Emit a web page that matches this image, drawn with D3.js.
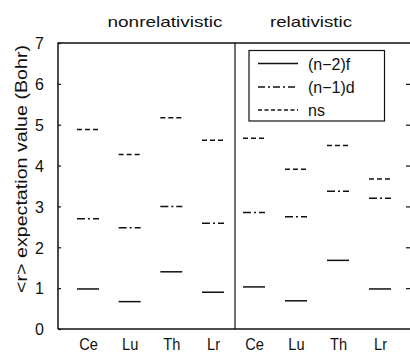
<!DOCTYPE html>
<html><head><meta charset="utf-8">
<script src="https://cdn.jsdelivr.net/npm/d3@7"></script>
<style>body{margin:0;background:#fff}svg{display:block}text{font-family:"Liberation Sans",Arial,sans-serif;fill:#111}</style>
</head><body><svg id="c" width="410" height="353"></svg>
<script>
const elements = ["Ce","Lu","Th","Lr"];
const panels = ["nonrelativistic","relativistic"];
const nonrelF = [0.98, 0.67, 1.40, 0.90];
const nonrelD = [2.70, 2.48, 3.00, 2.59];
const nonrelS = [4.88, 4.27, 5.17, 4.62];
const relF = [1.03, 0.69, 1.68, 0.98];
const relD = [2.85, 2.75, 3.37, 3.20];
const relS = [4.67, 3.91, 4.49, 3.67];
const yTicks = [0,1,2,3,4,5,6,7];
const seriesNames = ["(n\u22122)f","(n\u22121)d","ns"];
const dashes = [null, "8,3,2,3", "5,3"];
const legendDashes = [null, "7,3,2,3", "4,2.5"];

const svg = d3.select("#c");
const L=58, R=410, T=43, B=329, MID=235;
const y = d3.scaleLinear().domain([0,7]).range([B,T]);
const xs = [
  d3.scalePoint().domain(elements).range([88,213]),
  d3.scalePoint().domain(elements).range([254,380])
];
const data = [[nonrelF,nonrelD,nonrelS],[relF,relD,relS]];
const col="#111";
function squeeze(sel, f){ sel.each(function(){ const w=this.getComputedTextLength(); d3.select(this).attr("textLength",w*f).attr("lengthAdjust","spacingAndGlyphs"); }); }

// frame
svg.append("path").attr("d",`M${L},${B}V${T}H${R+2}`).attr("fill","none").attr("stroke",col).attr("stroke-width",1.5);
svg.append("line").attr("x1",L).attr("x2",R+2).attr("y1",B).attr("y2",B).attr("stroke",col).attr("stroke-width",1.5);
svg.append("line").attr("x1",MID).attr("x2",MID).attr("y1",T).attr("y2",B).attr("stroke",col).attr("stroke-width",1.2);

// left axis
const ya = d3.axisLeft(y).tickValues(yTicks).tickSize(-3).tickPadding(14).tickFormat(d3.format("d"));
const yg = svg.append("g").attr("transform",`translate(${L},0)`).call(ya);
yg.select(".domain").remove();
yg.selectAll(".tick line").attr("stroke",col).attr("stroke-width",1.2);
yg.selectAll(".tick text").attr("font-size",16).attr("dy","0.36em").style("font-family","Liberation Sans, Arial, sans-serif");
// right ticks
const yr = d3.axisRight(y).tickValues(yTicks.filter(v=>v>0&&v<7)).tickSize(-4).tickFormat("");
const yrg = svg.append("g").attr("transform",`translate(${R},0)`).call(yr);
yrg.select(".domain").remove();
yrg.selectAll(".tick line").attr("stroke",col).attr("stroke-width",1.2);

const titleX = [165, 311], titleW = [115, 82];
xs.forEach((x,i)=>{
  const xa = d3.axisBottom(x).tickSize(0).tickPadding(9);
  const xg = svg.append("g").attr("transform",`translate(0,${B})`).call(xa);
  xg.select(".domain").remove();
  const tt = xg.selectAll(".tick text").attr("font-size",17).attr("dy","0.71em").style("font-family","Liberation Sans, Arial, sans-serif");
  squeeze(tt, 0.86);
  svg.append("text").attr("x",titleX[i]).attr("y",27)
    .attr("text-anchor","middle").attr("font-size",15)
    .attr("textLength",titleW[i]).attr("lengthAdjust","spacingAndGlyphs").text(panels[i]);
  data[i].forEach((vals,s)=>{
    svg.append("g").selectAll("line").data(elements).join("line")
      .attr("x1",d=>x(d)-11).attr("x2",d=>x(d)+11)
      .attr("y1",(d,k)=>y(vals[k])).attr("y2",(d,k)=>y(vals[k]))
      .attr("stroke",col).attr("stroke-width",1.5)
      .attr("stroke-dasharray",dashes[s]);
  });
});

// y label
svg.append("text").attr("transform","translate(27,169) rotate(-90)").attr("text-anchor","middle")
  .attr("font-size",16).attr("textLength",248).attr("lengthAdjust","spacingAndGlyphs")
  .text("<r> expectation value (Bohr)");

// legend
const lg = svg.append("g");
lg.append("rect").attr("x",249).attr("y",50.5).attr("width",135.5).attr("height",70.5)
  .attr("fill","#fff").attr("stroke",col).attr("stroke-width",1.2);
const rowsY=[63.5,87,110];
seriesNames.forEach((n,s)=>{
  lg.append("line").attr("x1",258).attr("x2",298).attr("y1",rowsY[s]).attr("y2",rowsY[s])
    .attr("stroke",col).attr("stroke-width",1.5).attr("stroke-dasharray",legendDashes[s]);
  lg.append("text").attr("x",308).attr("y",rowsY[s]+6).attr("font-size",16).text(n);
});
</script></body></html>
